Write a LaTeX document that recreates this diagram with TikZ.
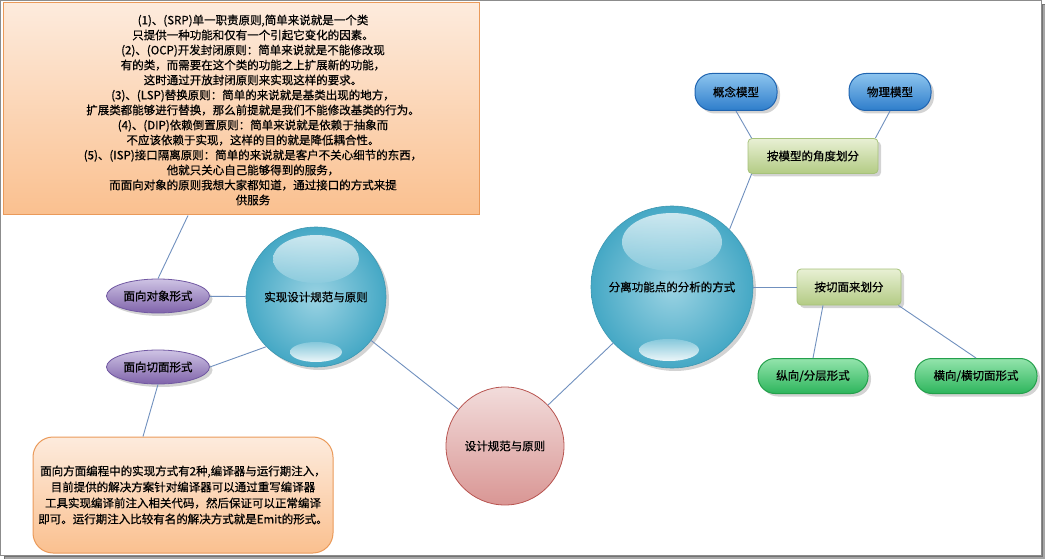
\documentclass[tikz,border=0pt]{standalone}
\usepackage{fontspec}
\setmainfont{Noto Sans CJK SC}[FakeBold=0.6]
\usetikzlibrary{shadows,shapes.geometric}
\definecolor{link}{HTML}{7090BE}
\definecolor{obord}{HTML}{EA9A5A}
\definecolor{otop}{HTML}{FDEBDD}
\definecolor{obot}{HTML}{FAC08F}
\definecolor{bin}{HTML}{9BD3E3}
\definecolor{bout}{HTML}{45A8C5}
\definecolor{pinktop}{HTML}{F2DCDB}
\definecolor{pinkbot}{HTML}{D99694}
\definecolor{pinkbord}{HTML}{B85450}
\definecolor{blutop}{HTML}{8CC4EE}
\definecolor{blubot}{HTML}{2E7DCB}
\definecolor{blubord}{HTML}{1F64B0}
\definecolor{gytop}{HTML}{E8F0D4}
\definecolor{gybot}{HTML}{B3CB84}
\definecolor{gybord}{HTML}{A6C27A}
\definecolor{grtop}{HTML}{93E4AC}
\definecolor{grbot}{HTML}{2DB55C}
\definecolor{grbord}{HTML}{24A04C}
\definecolor{putop}{HTML}{CEC3E4}
\definecolor{pubot}{HTML}{7F63AA}
\definecolor{pubord}{HTML}{7158A2}
\begin{document}
\begin{tikzpicture}[x=1pt,y=-1pt,
  txt/.style={font=\fontsize{11.5}{15}\selectfont, text=black},
  shd/.style={drop shadow={opacity=0.35, shadow xshift=3pt, shadow yshift=-3pt}},
  obox/.style={draw=obord, line width=1pt, top color=otop, bottom color=obot},
  ball/.style={circle, draw=bout!90!black, line width=0.6pt, inner color=bin, outer color=bout, shd, txt, inner sep=0pt},
  pinkball/.style={circle, draw=pinkbord, line width=0.8pt, top color=pinktop, bottom color=pinkbot, txt, inner sep=0pt},
  bluepill/.style={rectangle, rounded corners=17pt, draw=blubord, line width=1pt, top color=blutop, bottom color=blubot, shd, txt, minimum width=82pt, minimum height=37pt},
  gybox/.style={rectangle, rounded corners=4pt, draw=gybord, line width=0.8pt, top color=gytop, bottom color=gybot, shd, txt, minimum height=35pt},
  greenpill/.style={rectangle, rounded corners=17pt, draw=grbord, line width=1pt, top color=grtop, bottom color=grbot, shd, txt, minimum height=35pt},
  purple/.style={ellipse, draw=pubord, line width=0.8pt, top color=putop, bottom color=pubot, shd, txt, minimum width=103pt, minimum height=34pt, inner sep=0pt},
  conn/.style={draw=link, line width=0.9pt}
]
\useasboundingbox (0,0) rectangle (1045,559);
% frame with shadow
\fill[black!55] (4,555) rectangle (1045,559);
\fill[black!55] (1041,4) rectangle (1045,559);
\fill[black!35] (5,557) rectangle (1045,559);
\fill[black!35] (1043,5) rectangle (1045,559);
\draw[black!45, line width=0.6pt] (0.3,0.3) rectangle (1041,555);

% boxes
\node[obox, minimum width=476pt, minimum height=212pt] (tbox) at (241,109) {};
\node[txt, align=center] (ttext) at (253,110) {(1)、(SRP)单一职责原则,简单来说就是一个类\\
只提供一种功能和仅有一个引起它变化的因素。\\
(2)、(OCP)开发封闭原则：简单来说就是不能修改现\\
有的类，而需要在这个类的功能之上扩展新的功能，\\
这时通过开放封闭原则来实现这样的要求。\\
(3)、(LSP)替换原则：简单的来说就是基类出现的地方，\\
扩展类都能够进行替换，那么前提就是我们不能修改基类的行为。\\
(4)、(DIP)依赖倒置原则：简单来说就是依赖于抽象而\\
不应该依赖于实现，这样的目的就是降低耦合性。\\
(5)、(ISP)接口隔离原则：简单的来说就是客户不关心细节的东西，\\
他就只关心自己能够得到的服务，\\
而面向对象的原则我想大家都知道，通过接口的方式来提\\
供服务};

\node[obox, rounded corners=20pt, minimum width=300pt, minimum height=116pt, txt, align=center, font=\fontsize{11.5}{16}\selectfont] (bbox) at (183,495) {面向方面编程中的实现方式有2种,编译器与运行期注入，\\
目前提供的解决方案针对编译器可以通过重写编译器\\
工具实现编译前注入相关代码，然后保证可以正常编译\\
即可。运行期注入比较有名的解决方式就是Emit的形式。};

% circles
\node[ball, minimum size=140pt] (c1) at (316,297) {};
\node[pinkball, minimum size=118pt] (c2) at (505,446) {设计规范与原则};
\node[ball, minimum size=162pt] (c3) at (672,287) {};

% highlights
\shade[top color=white!80!bin, bottom color=bin!85!bout, opacity=0.8] ([yshift=38pt]c1.center) ellipse [x radius=43pt, y radius=24pt];
\shade[top color=bin!80!bout, bottom color=white, opacity=0.9] ([yshift=-55pt]c1.center) ellipse [x radius=26pt, y radius=10pt];
\shade[top color=white!80!bin, bottom color=bin!85!bout, opacity=0.8] ([yshift=45pt]c3.center) ellipse [x radius=50pt, y radius=29pt];
\shade[top color=bin!80!bout, bottom color=white, opacity=0.9] ([yshift=-63pt,xshift=-3pt]c3.center) ellipse [x radius=30pt, y radius=11pt];
\node[txt] (c1t) at (c1) {实现设计规范与原则};
\node[txt] (c3t) at (c3) {分离功能点的分析的方式};

% left ovals
\node[purple] (oo) at (158,296) {面向对象形式};
\node[purple] (aop) at (158,367) {面向切面形式};

% right side
\node[bluepill] (gn) at (736,92) {概念模型};
\node[bluepill] (wl) at (890,92) {物理模型};
\node[gybox, minimum width=130pt] (amx) at (813,156) {按模型的角度划分};
\node[gybox, minimum width=104pt, minimum height=36pt] (aqm) at (849,287) {按切面来划分};
\node[greenpill, minimum width=110pt] (zx) at (813,376) {纵向/分层形式};
\node[greenpill, minimum width=122pt] (hx) at (976,376) {横向/横切面形式};

% connectors
\draw[conn] ([xshift=-53pt]tbox.south) -- (oo.north);
\draw[conn] (oo) -- (c1);
\draw[conn] (aop.east) -- (c1.225);
\draw[conn] (aop.south) -- ([xshift=-40pt]bbox.north);
\draw[conn] (c1) -- (c2);
\draw[conn] (c2) -- (c3);
\draw[conn] (c3.45) -- ([xshift=4pt]amx.south west);
\draw[conn] (gn.south) -- ([xshift=4pt]amx.north west);
\draw[conn] (wl.south) -- ([xshift=-3pt]amx.north east);
\draw[conn] (c3) -- (aqm);
\draw[conn] ([xshift=-26pt]aqm.south) -- (zx.north);
\draw[conn] ([xshift=-3pt]aqm.south east) -- (hx.north);
\end{tikzpicture}
\end{document}
